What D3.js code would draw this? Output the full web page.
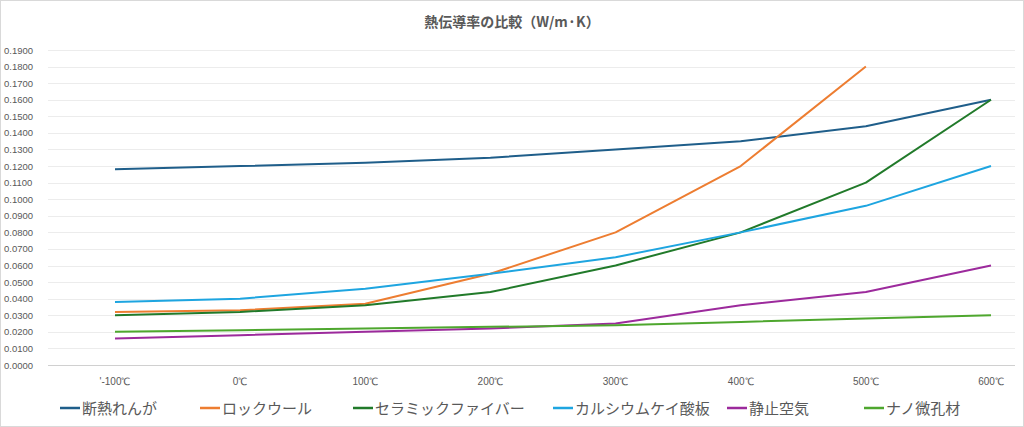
<!DOCTYPE html>
<html lang="ja">
<head>
  <meta charset="UTF-8">
  <style>
    body { margin: 0; font-family: "Noto Sans CJK JP", sans-serif; background: #fff; }
  </style>
  <script src="https://cdn.jsdelivr.net/npm/d3@7"></script>
</head>
<body>
<script>
  var categories = ["'-100℃", "0℃", "100℃", "200℃", "300℃", "400℃", "500℃", "600℃"];
  var seriesNames = ["断熱れんが", "ロックウール", "セラミックファイバー", "カルシウムケイ酸板", "静止空気", "ナノ微孔材"];
  var seriesColors = ["#1f5e8a", "#ed7d31", "#217a2a", "#1ea5e0", "#9c2a9c", "#4ea72e"];
  var brick   = [0.118, 0.120, 0.122, 0.125, 0.130, 0.135, 0.144, 0.160];
  var rock    = [0.032, 0.033, 0.037, 0.055, 0.080, 0.120, 0.180, null];
  var ceramic = [0.030, 0.032, 0.036, 0.044, 0.060, 0.080, 0.110, 0.160];
  var calcium = [0.038, 0.040, 0.046, 0.055, 0.065, 0.080, 0.096, 0.120];
  var air     = [0.016, 0.018, 0.020, 0.022, 0.025, 0.036, 0.044, 0.060];
  var nano    = [0.020, 0.021, 0.022, 0.023, 0.024, 0.026, 0.028, 0.030];
  var seriesValues = [brick, rock, ceramic, calcium, air, nano];
  var yTicks = d3.range(0, 0.19001, 0.01);

  var W = 1024, H = 427;
  var svg = d3.select("body").append("svg").attr("width", W).attr("height", H);
  svg.append("rect").attr("x", 0.5).attr("y", 0.5).attr("width", W - 1).attr("height", H - 1)
    .attr("fill", "#fff").attr("stroke", "#d9d9d9");

  var x = d3.scalePoint().domain(categories).range([115, 991]);
  var y = d3.scaleLinear().domain([0, 0.19]).range([365, 50]);

  // gridlines
  svg.append("g").selectAll("line").data(yTicks).enter().append("line")
    .attr("x1", 48).attr("x2", 1015)
    .attr("y1", function(d) { return Math.round(y(d)) + 0.5; })
    .attr("y2", function(d) { return Math.round(y(d)) + 0.5; })
    .attr("stroke", function(d, i) { return i === 0 ? "#d0d0d0" : "#ececec"; });

  svg.append("g").selectAll("text").data(yTicks).enter().append("text")
    .attr("x", 4).attr("y", function(d) { return y(d) + 3.5; })
    .style("font-family", "Liberation Sans, sans-serif").style("font-size", "9.5px").attr("fill", "#595959")
    .text(function(d) { return d.toFixed(4); });

  svg.append("g").selectAll("text").data(categories).enter().append("text")
    .attr("x", function(d) { return x(d); }).attr("y", 385)
    .attr("text-anchor", "middle")
    .style("font-family", "Liberation Sans, sans-serif").style("font-size", "10px").attr("fill", "#595959")
    .text(function(d) { return d; });

  svg.append("text").attr("x", 512).attr("y", 27).attr("text-anchor", "middle")
    .style("font-size", "14px").style("font-weight", "bold").attr("fill", "#595959")
    .text("熱伝導率の比較（W/m·K）");

  var line = d3.line()
    .defined(function(d) { return d != null; })
    .x(function(d, i) { return x(categories[i]); })
    .y(function(d) { return y(d); });

  seriesValues.forEach(function(vals, k) {
    svg.append("path").attr("d", line(vals)).attr("fill", "none")
      .attr("stroke", seriesColors[k]).attr("stroke-width", 2).attr("stroke-linejoin", "round");
  });

  // legend
  var legendX = [60, 200, 353, 553, 727, 864];
  var lg = svg.append("g").selectAll("g").data(seriesNames).enter().append("g")
    .attr("transform", function(d, i) { return "translate(" + legendX[i] + ",408)"; });
  lg.append("line").attr("x1", 0).attr("x2", 20).attr("y1", 0).attr("y2", 0)
    .attr("stroke", function(d, i) { return seriesColors[i]; }).attr("stroke-width", 2.5);
  lg.append("text").attr("x", 22).attr("y", 5.5).style("font-size", "15px").attr("fill", "#595959")
    .text(function(d) { return d; });
</script>
</body>
</html>
